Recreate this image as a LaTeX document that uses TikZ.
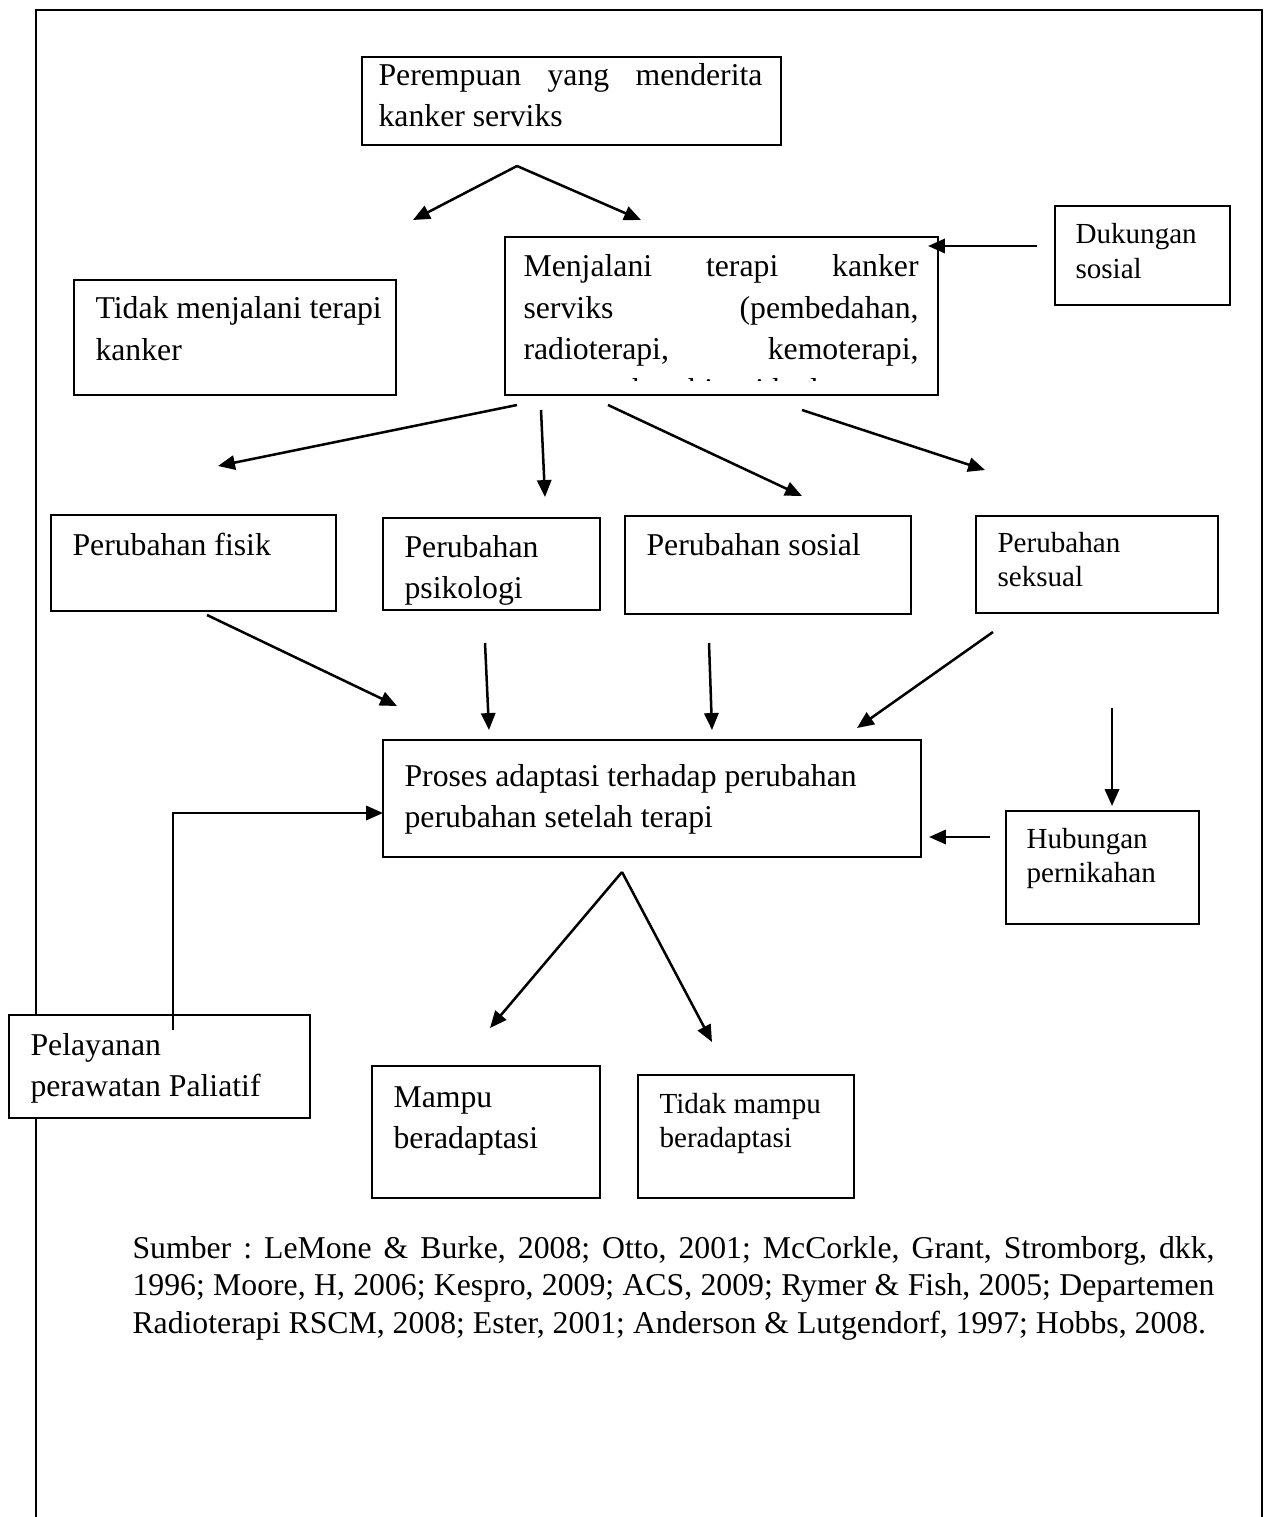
\documentclass[tikz,border=0pt]{standalone}
\usepackage{fontspec}
\setmainfont{Liberation Serif}
\usetikzlibrary{fit,arrows.meta}
\newdimen\pxu \pxu=0.378pt
\frenchspacing
\tikzset{
  box/.style={draw, line width=0.75pt, fill=white, inner sep=0pt},
  arr/.style={line width=0.95pt, -{Triangle[length=6.4pt,width=5.4pt]}},
  txt/.style={inner sep=0pt, anchor=base west, font=\fontsize{12pt}{15.5pt}\selectfont},
  stxt/.style={inner sep=0pt, anchor=base west, font=\fontsize{11pt}{12.9pt}\selectfont},
  frame/.style={line width=0.75pt}
}
\begin{document}
\begin{tikzpicture}[x=0.378pt,y=-0.378pt]
\useasboundingbox (0,0) rectangle (1266,1517);
\fill[white] (0,0) rectangle (1266,1517);
% outer frame
\draw[frame] (36,1540) -- (36,10) -- (1262,10) -- (1262,1540);

% boxes
\node[box, fit={(362,57) (781,145)}] (btop) {};
\node[box, fit={(74,280) (396,395)}] (bno) {};
\node[box, fit={(505,237) (938,395)}] (byes) {};
\node[box, fit={(1055,206) (1230,305)}] (bduk) {};
\node[box, fit={(51,515) (336,611)}] (bfis) {};
\node[box, fit={(383,518) (600,610)}] (bpsi) {};
\node[box, fit={(625,516) (911,614)}] (bsos) {};
\node[box, fit={(976,516) (1218,613)}] (bsek) {};
\node[box, fit={(383,740) (921,857)}] (bada) {};
\node[box, fit={(1006,811) (1199,924)}] (bhub) {};
\node[box, fit={(9,1015) (310,1118)}] (bpel) {};
\node[box, fit={(372,1066) (600,1198)}] (bmam) {};
\node[box, fit={(638,1075) (854,1198)}] (btm) {};

% texts
\node[txt] (ttop) at (378,86) {\parbox[t]{384\pxu}{\makebox[384\pxu][s]{Perempuan yang menderita}\\kanker serviks}};
\node[txt] (tno) at (95,319) {\parbox[t]{300\pxu}{Tidak menjalani terapi\\kanker}};
\begin{scope}
\clip (505,237) rectangle (938,381);
\node[txt] (tyes) at (523,277) {\parbox[t]{395\pxu}{\makebox[395\pxu][s]{Menjalani terapi kanker}\\\makebox[395\pxu][s]{serviks (pembedahan,}\\\makebox[395\pxu][s]{radioterapi, kemoterapi,}\\ataupun kombinasi keduanya}};
\end{scope}
\node[stxt] (tduk) at (1075,244) {\parbox[t]{150\pxu}{Dukungan\\sosial}};
\node[txt] (tfis) at (72,555) {Perubahan fisik};
\begin{scope}
\clip (383,518) rectangle (600,605);
\node[txt] (tpsi) at (404,557) {\parbox[t]{190\pxu}{Perubahan\\psikologi}};
\end{scope}
\node[txt] (tsos) at (646,555) {Perubahan sosial};
\node[stxt] (tsek) at (997,552) {\parbox[t]{200\pxu}{Perubahan\\seksual}};
\node[txt] (tada) at (404,786) {\parbox[t]{510\pxu}{Proses adaptasi terhadap perubahan\\perubahan setelah terapi}};
\node[stxt] (thub) at (1026,848) {\parbox[t]{170\pxu}{Hubungan\\pernikahan}};
\node[txt] (tpel) at (30,1055) {\parbox[t]{280\pxu}{Pelayanan\\perawatan Paliatif}};
\node[txt] (tmam) at (393,1107) {\parbox[t]{200\pxu}{Mampu\\beradaptasi}};
\node[stxt] (ttm) at (659,1113) {\parbox[t]{190\pxu}{Tidak mampu\\beradaptasi}};
\node[inner sep=0pt, anchor=base west, font=\fontsize{12pt}{14.2pt}\selectfont] (tsum) at (132,1258) {\parbox[t]{1082\pxu}{\makebox[1082\pxu][s]{Sumber : LeMone \& Burke, 2008; Otto, 2001; McCorkle, Grant, Stromborg, dkk,}\\\makebox[1082\pxu][s]{1996; Moore, H, 2006; Kespro, 2009; ACS, 2009; Rymer \& Fish, 2005; Departemen}\\Radioterapi RSCM, 2008; Ester, 2001; Anderson \& Lutgendorf, 1997; Hobbs, 2008.}};

% arrow coordinates
\coordinate (s1) at (517,166);
\coordinate (e1) at (413,220);
\coordinate (e2) at (641,220);
\coordinate (s3) at (1037,246);
\coordinate (e3) at (928,246);
\coordinate (s4) at (517,405);
\coordinate (e4) at (218,466);
\coordinate (s5) at (541,410);
\coordinate (e5) at (545,497);
\coordinate (s6) at (608,405);
\coordinate (e6) at (802,496);
\coordinate (s7) at (802,410);
\coordinate (e7) at (985,470);
\coordinate (s8) at (207,615);
\coordinate (e8) at (397,706);
\coordinate (s9) at (485,643);
\coordinate (e9) at (489,730);
\coordinate (s10) at (709,643);
\coordinate (e10) at (712,730);
\coordinate (s11) at (993,632);
\coordinate (e11) at (857,728);
\coordinate (s12) at (1112,708);
\coordinate (e12) at (1112,806);
\coordinate (s13) at (990,837);
\coordinate (e13) at (929,837);
\coordinate (s14) at (622,872);
\coordinate (e14) at (490,1028);
\coordinate (e15) at (712,1042);
\coordinate (s16) at (173,1030);
\coordinate (e16) at (383,813);

\draw[arr] (s1) -- (e1);
\draw[arr] (s1) -- (e2);
\draw[arr] (s3) -- (e3);
\draw[arr] (s4) -- (e4);
\draw[arr] (s5) -- (e5);
\draw[arr] (s6) -- (e6);
\draw[arr] (s7) -- (e7);
\draw[arr] (s8) -- (e8);
\draw[arr] (s9) -- (e9);
\draw[arr] (s10) -- (e10);
\draw[arr] (s11) -- (e11);
\draw[arr] (s12) -- (e12);
\draw[arr] (s13) -- (e13);
\draw[arr] (s14) -- (e14);
\draw[arr] (s14) -- (e15);
\draw[arr] (s16) |- (e16);
\end{tikzpicture}
\end{document}
